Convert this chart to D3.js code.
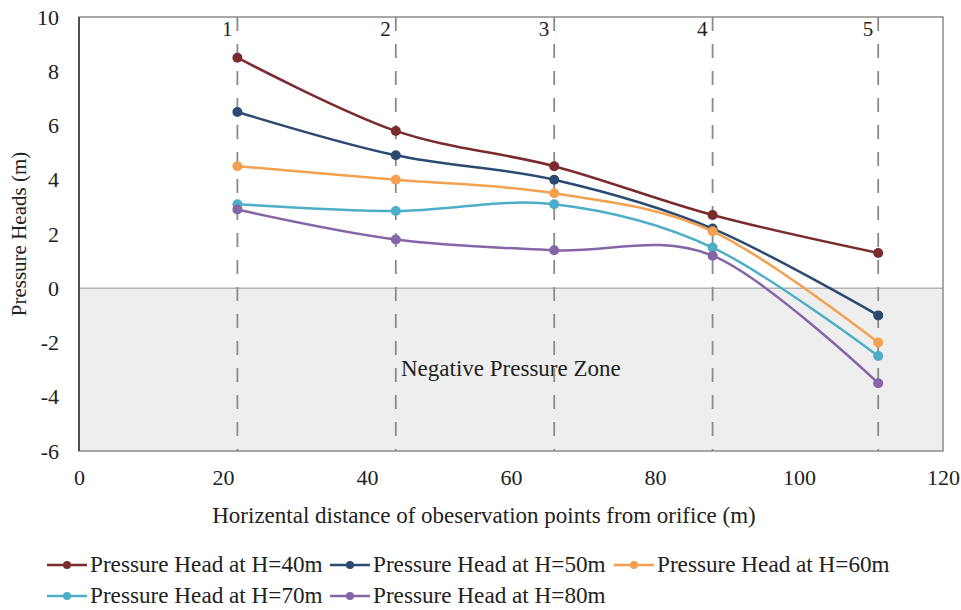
<!DOCTYPE html>
<html>
<head>
<meta charset="utf-8">
<script src="https://cdn.jsdelivr.net/npm/d3@7"></script>
<style>
  body { margin: 0; background: #fff; }
  svg text { font-family: "Liberation Serif", "Times New Roman", serif; fill: #222; }
</style>
</head>
<body>
<svg id="chart" width="961" height="610"></svg>
<script>
// Observation points (x, m) and their labels
var stations = [22, 44, 66, 88, 111];
var stationLabels = ["1", "2", "3", "4", "5"];

// Pressure heads (m) at each station
var head40 = [8.5, 5.8, 4.5, 2.7, 1.3];
var head50 = [6.5, 4.9, 4.0, 2.2, -1.0];
var head60 = [4.5, 4.0, 3.5, 2.1, -2.0];
var head70 = [3.1, 2.85, 3.1, 1.5, -2.5];
var head80 = [2.9, 1.8, 1.4, 1.2, -3.5];

var seriesNames = [
  "Pressure Head at H=40m",
  "Pressure Head at H=50m",
  "Pressure Head at H=60m",
  "Pressure Head at H=70m",
  "Pressure Head at H=80m"
];
var seriesColors = ["#7a2b2e", "#2c4a70", "#f3a150", "#4eaec8", "#8465a6"];

var xTicks = [0, 20, 40, 60, 80, 100, 120];
var yTicks = [-6, -4, -2, 0, 2, 4, 6, 8, 10];

var serif = '"Liberation Serif", "Times New Roman", serif';

var series = [head40, head50, head60, head70, head80].map(function(vals, i) {
  return {
    name: seriesNames[i],
    color: seriesColors[i],
    points: vals.map(function(v, j) { return { x: stations[j], y: v }; })
  };
});

var margin = { top: 17, right: 18, bottom: 159, left: 79 },
  width = 961 - margin.left - margin.right,
  height = 610 - margin.top - margin.bottom;

var xScale = d3.scaleLinear().domain([0, 120]).range([0, width]);
var yScale = d3.scaleLinear().domain([-6, 10]).range([height, 0]);

var svg = d3.select("#chart");
var chart = svg.append("g")
  .attr("transform", `translate(${margin.left}, ${margin.top})`);

// Negative pressure zone
chart.append("rect")
  .attr("x", 0)
  .attr("y", yScale(0))
  .attr("width", width)
  .attr("height", yScale(-6) - yScale(0))
  .attr("fill", "#eeeeee");

chart.append("line")
  .attr("x1", 0).attr("x2", width)
  .attr("y1", yScale(0)).attr("y2", yScale(0))
  .attr("stroke", "#b5b5b5")
  .attr("stroke-width", 1.5);

// Plot frame
chart.append("rect")
  .attr("width", width)
  .attr("height", height)
  .attr("fill", "none")
  .attr("stroke", "#8c8c8c")
  .attr("stroke-width", 1.5);

chart.append("line")
  .attr("x1", 0).attr("x2", 0)
  .attr("y1", 0).attr("y2", height)
  .attr("stroke", "#333")
  .attr("stroke-width", 1.5);

chart.append("text")
  .attr("x", 401 - margin.left)
  .attr("y", yScale(-3.22))
  .style("font-size", "23px")
  .text("Negative Pressure Zone");

// Station guide lines
chart.selectAll(".station")
  .data(stations)
  .enter()
  .append("line")
  .attr("class", "station")
  .attr("x1", d => xScale(d)).attr("x2", d => xScale(d))
  .attr("y1", 0).attr("y2", height)
  .attr("stroke", "#8a8a8a")
  .attr("stroke-width", 1.8)
  .attr("stroke-dasharray", "14,13");

chart.selectAll(".station-label")
  .data(stations)
  .enter()
  .append("text")
  .attr("class", "station-label")
  .attr("x", d => xScale(d) - 5)
  .attr("y", 19)
  .style("font-size", "21px")
  .style("text-anchor", "end")
  .text((d, i) => stationLabels[i]);

// Axes (labels only, no tick marks)
var xAxis = chart.append("g")
  .attr("transform", "translate(0," + height + ")")
  .call(d3.axisBottom(xScale).tickValues(xTicks).tickSize(0).tickPadding(18)
    .tickFormat(d => String(d)));
var yAxis = chart.append("g")
  .call(d3.axisLeft(yScale).tickValues(yTicks).tickSize(0).tickPadding(20)
    .tickFormat(d => String(d)));
[xAxis, yAxis].forEach(function(a) {
  a.attr("font-family", serif).attr("font-size", 22);
  a.select(".domain").remove();
  a.selectAll("text")
    .style("font-family", serif)
    .style("font-size", "22px")
    .attr("fill", "#222");
});

// Axis titles
chart.append("text")
  .attr("transform", "translate(" + (484 - margin.left) + " ," + (523 - margin.top) + ")")
  .style("text-anchor", "middle")
  .style("font-size", "23px")
  .text("Horizental distance of obeservation points from orifice (m)");
chart.append("text")
  .attr("transform", "rotate(-90)")
  .attr("y", 26 - margin.left)
  .attr("x", -(234 - margin.top))
  .style("text-anchor", "middle")
  .style("font-size", "21px")
  .text("Pressure Heads (m)");

// Lines
var line = d3.line()
  .x(d => xScale(d.x))
  .y(d => yScale(d.y))
  .curve(d3.curveCardinal.tension(0));

var groups = chart.selectAll(".series")
  .data(series)
  .enter()
  .append("g")
  .attr("class", "series");

groups.append("path")
  .attr("d", d => line(d.points))
  .attr("fill", "none")
  .attr("stroke", d => d.color)
  .attr("stroke-width", 2.5);

groups.each(function(s) {
  d3.select(this).selectAll("circle")
    .data(s.points)
    .enter()
    .append("circle")
    .attr("cx", d => xScale(d.x))
    .attr("cy", d => yScale(d.y))
    .attr("r", 5)
    .attr("fill", s.color);
});

// Legend
var legendCols = [47, 330, 614];
var legendRows = [565, 596];
var legend = svg.selectAll(".legend")
  .data(series)
  .enter()
  .append("g")
  .attr("class", "legend")
  .attr("transform", (d, i) => `translate(${legendCols[i % 3]}, ${legendRows[Math.floor(i / 3)]})`);

legend.append("line")
  .attr("x1", 0).attr("x2", 40)
  .attr("stroke", d => d.color)
  .attr("stroke-width", 2.5);
legend.append("circle")
  .attr("cx", 20)
  .attr("r", 4)
  .attr("fill", d => d.color);
legend.append("text")
  .attr("x", 43)
  .attr("y", 7)
  .style("font-size", "23.2px")
  .text(d => d.name);
</script>
</body>
</html>
